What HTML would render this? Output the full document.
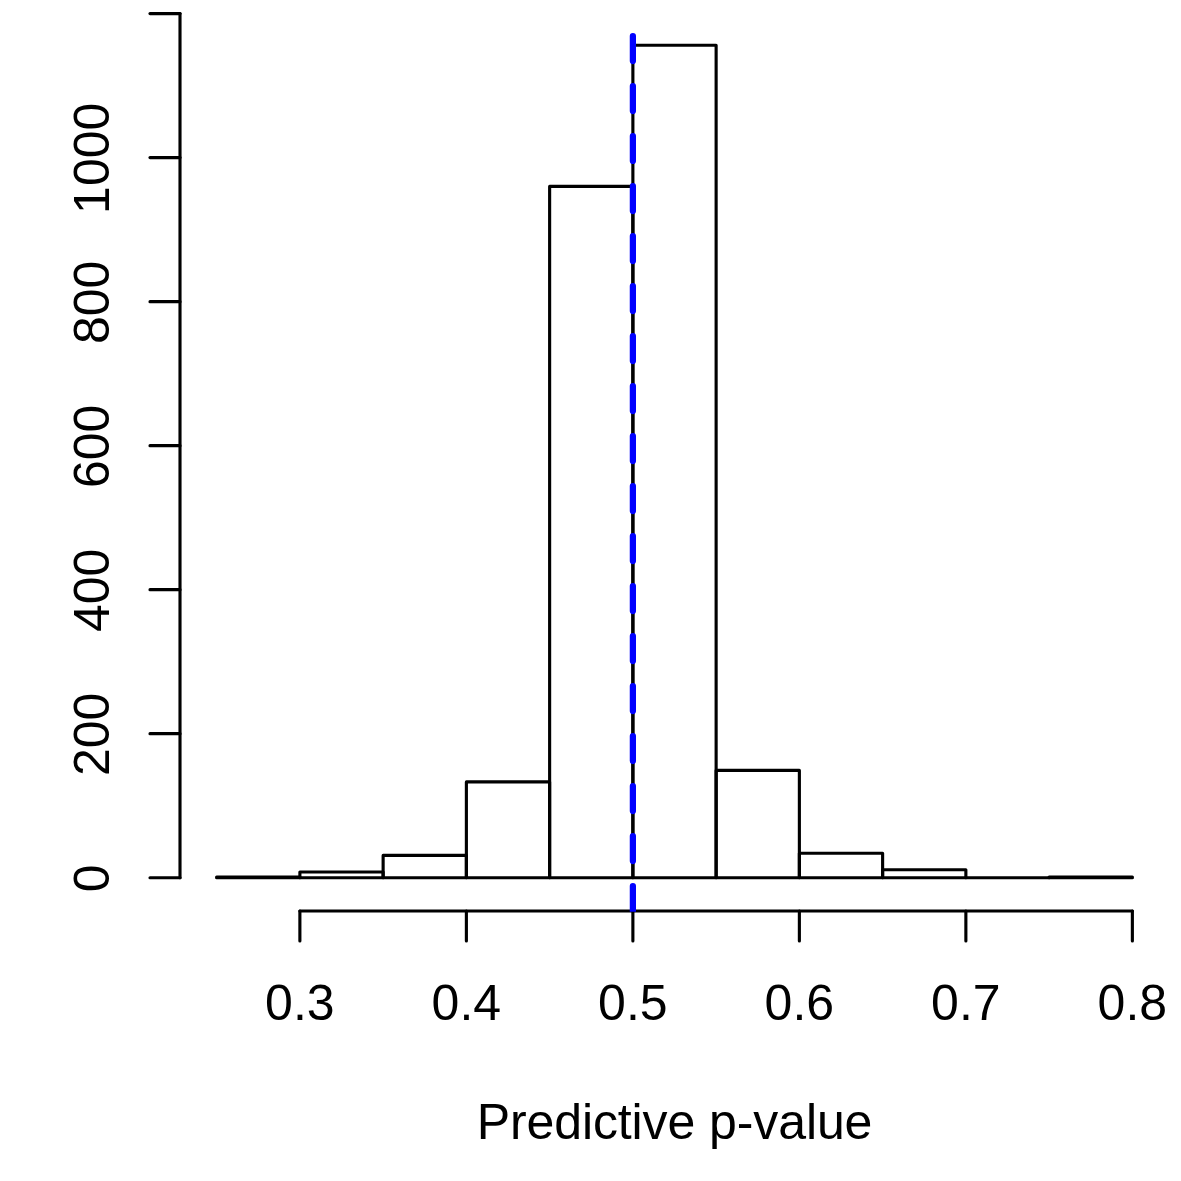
<!DOCTYPE html>
<html lang="en">
<head>
<meta charset="utf-8">
<title>Predictive p-value histogram</title>
<style>
html,body{margin:0;padding:0;background:#fff;}
body{width:1181px;height:1181px;overflow:hidden;}
svg{display:block;}
text{font-family:"Liberation Sans",Arial,Helvetica,sans-serif;font-size:50px;fill:#000;}
</style>
</head>
<body>
<svg width="1181" height="1181" viewBox="0 0 1181 1181">
<rect x="0" y="0" width="1181" height="1181" fill="#ffffff"/>
<g fill="none" stroke="#000" stroke-width="3.125" stroke-linejoin="round" stroke-linecap="round">
<path d="M216.63 877.70L216.63 876.98L299.88 876.98L299.88 877.70Z"/>
<path d="M299.88 877.70L299.88 871.94L383.13 871.94L383.13 877.70Z"/>
<path d="M383.13 877.70L383.13 855.38L466.38 855.38L466.38 877.70Z"/>
<path d="M466.38 877.70L466.38 781.93L549.63 781.93L549.63 877.70Z"/>
<path d="M549.63 877.70L549.63 186.42L632.88 186.42L632.88 877.70Z"/>
<path d="M632.88 877.70L632.88 45.29L716.13 45.29L716.13 877.70Z"/>
<path d="M716.13 877.70L716.13 770.41L799.37 770.41L799.37 877.70Z"/>
<path d="M799.37 877.70L799.37 853.22L882.62 853.22L882.62 877.70Z"/>
<path d="M882.62 877.70L882.62 869.78L965.87 869.78L965.87 877.70Z"/>
<path d="M965.87 877.70L965.87 877.70L1049.12 877.70L1049.12 877.70Z"/>
<path d="M1049.12 877.70L1049.12 876.98L1132.37 876.98L1132.37 877.70Z"/>
</g>
<g fill="none" stroke="#000" stroke-width="3.125" stroke-linecap="round">
<path d="M299.88 911.00L1132.37 911.00"/>
<path d="M299.88 911.00L299.88 941.00"/>
<path d="M466.38 911.00L466.38 941.00"/>
<path d="M632.88 911.00L632.88 941.00"/>
<path d="M799.37 911.00L799.37 941.00"/>
<path d="M965.87 911.00L965.87 941.00"/>
<path d="M1132.37 911.00L1132.37 941.00"/>
<path d="M180.00 877.70L180.00 13.60"/>
<path d="M180.00 877.70L150.00 877.70"/>
<path d="M180.00 733.68L150.00 733.68"/>
<path d="M180.00 589.67L150.00 589.67"/>
<path d="M180.00 445.65L150.00 445.65"/>
<path d="M180.00 301.64L150.00 301.64"/>
<path d="M180.00 157.62L150.00 157.62"/>
<path d="M180.00 13.60L150.00 13.60"/>
</g>
<g text-anchor="middle">
<text x="299.88" y="1019.6">0.3</text>
<text x="466.38" y="1019.6">0.4</text>
<text x="632.88" y="1019.6">0.5</text>
<text x="799.37" y="1019.6">0.6</text>
<text x="965.87" y="1019.6">0.7</text>
<text x="1132.37" y="1019.6">0.8</text>
<text x="674.5" y="1138.8" letter-spacing="-0.1">Predictive p-value</text>
<text transform="translate(109.0 878.40) rotate(-90)" x="0" y="0">0</text>
<text transform="translate(109.0 734.38) rotate(-90)" x="0" y="0">200</text>
<text transform="translate(109.0 590.37) rotate(-90)" x="0" y="0">400</text>
<text transform="translate(109.0 446.35) rotate(-90)" x="0" y="0">600</text>
<text transform="translate(109.0 302.34) rotate(-90)" x="0" y="0">800</text>
<text transform="translate(109.0 158.32) rotate(-90)" x="0" y="0">1000</text>
</g>
<clipPath id="plotclip"><rect x="180" y="12" width="989" height="899.8"/></clipPath>
<path clip-path="url(#plotclip)" d="M632.88 911L632.88 12" fill="none" stroke="#0000ff" stroke-width="6.25" stroke-linecap="round" stroke-dasharray="25 25"/>
</svg>
</body>
</html>
